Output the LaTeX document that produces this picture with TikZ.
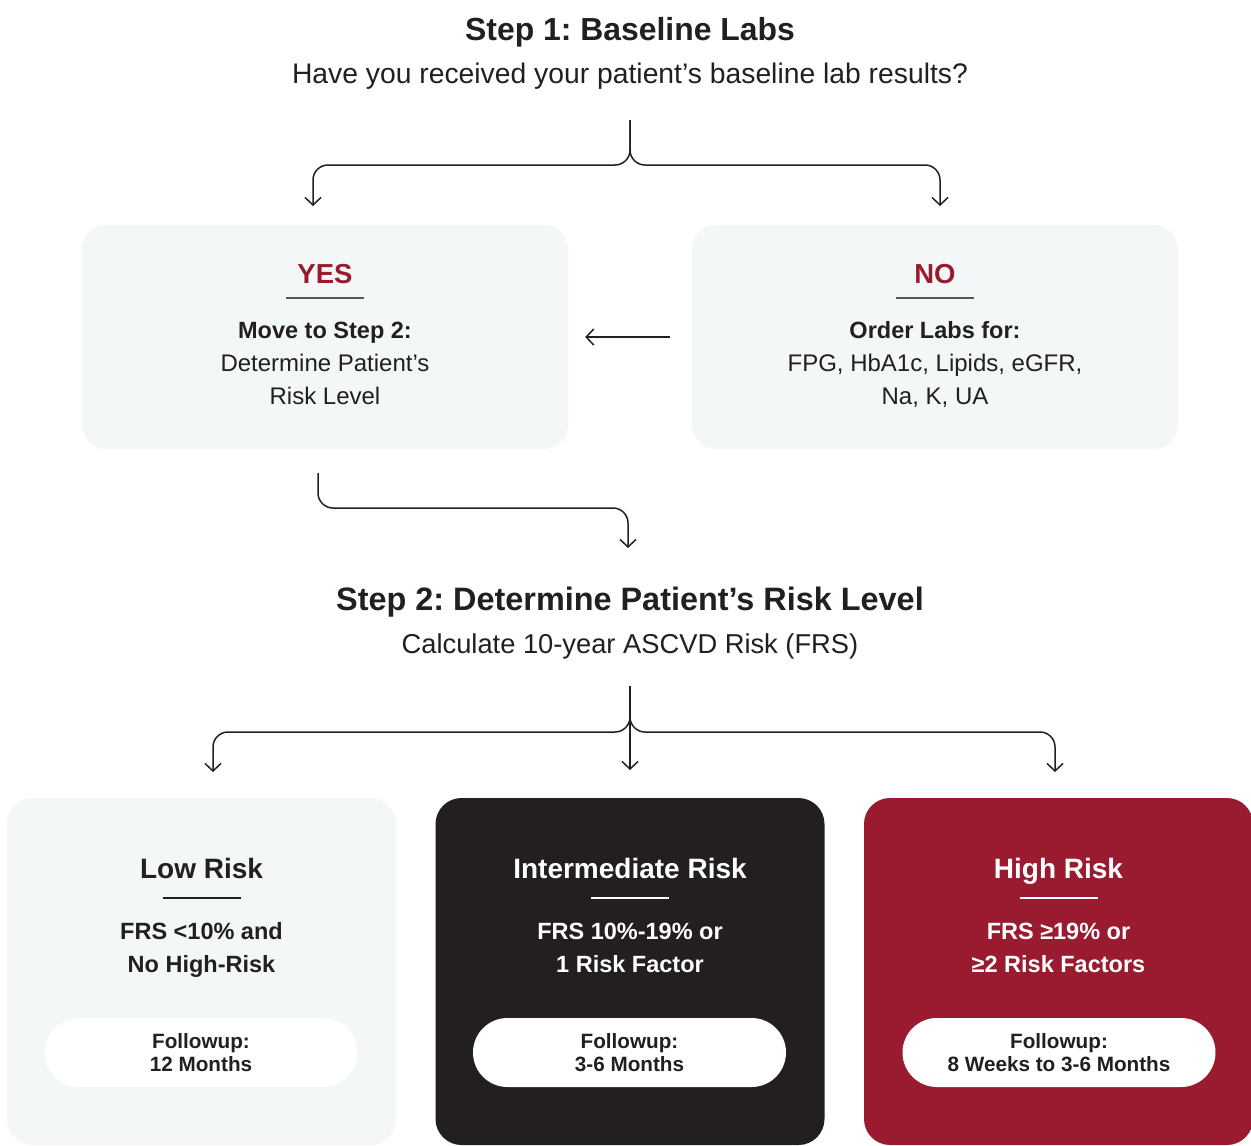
\documentclass[tikz,border=0pt]{standalone}
\usepackage{fontspec}
\setmainfont{Liberation Sans}
\usetikzlibrary{arrows.meta}
\frenchspacing
\definecolor{ink}{HTML}{231F20}
\definecolor{panel}{HTML}{F3F7F8}
\definecolor{crimson}{HTML}{9A1B30}
\definecolor{rulegray}{HTML}{58585A}
\newcommand{\fsTitle}{\fontsize{31.9}{36}\selectfont\bfseries}
\newcommand{\fsTitleB}{\fontsize{32.4}{36}\selectfont\bfseries}
\newcommand{\fsSub}{\fontsize{28.3}{32}\selectfont}
\newcommand{\fsSubB}{\fontsize{27.3}{32}\selectfont}
\newcommand{\fsHead}{\fontsize{27.5}{32}\selectfont\bfseries}
\newcommand{\fsBodyB}{\fontsize{23.5}{28}\selectfont\bfseries}
\newcommand{\fsBody}{\fontsize{24}{28}\selectfont}
\newcommand{\fsRisk}{\fontsize{28}{32}\selectfont\bfseries}
\newcommand{\fsCrit}{\fontsize{23.5}{28}\selectfont\bfseries}
\newcommand{\fsFollow}{\fontsize{20.7}{24}\selectfont\bfseries}
\tikzset{
  conn/.style={draw=ink, line width=1.5pt, rounded corners=15pt},
  arr/.style={conn, -{Straight Barb[length=7.5pt,width=16pt,line width=1.5pt]}},
  card/.style={rectangle, rounded corners=24pt, inner sep=0pt, minimum width=486pt, minimum height=224pt, fill=panel},
  riskcard/.style={rectangle, rounded corners=26pt, inner sep=0pt, minimum width=389pt, minimum height=347pt},
  pill/.style={rectangle, rounded corners=34.5pt, inner sep=0pt, minimum width=313pt, minimum height=69pt, fill=white},
  txt/.style={anchor=base, inner sep=0pt, text=ink},
  wtxt/.style={anchor=base, inner sep=0pt, text=white},
  thinrule/.style={draw=rulegray, line width=2pt},
  headrule/.style={line width=2.6pt}
}
\begin{document}
\begin{tikzpicture}[x=1pt,y=-1pt]
\fill[white] (0,0) rectangle (1251,1146);
\useasboundingbox (0,0) rectangle (1251,1146);

% Step 1 heading
\node[txt] (t1) at (630,40) {\fsTitle Step 1: Baseline Labs};
\node[txt] (s1) at (630,83) {\fsSub Have you received your patient’s baseline lab results?};

% Step 1 cards
\node[card] (yes) at (325,337) {};
\node[card] (no) at (935,337) {};

\node[txt, text=crimson] (yesh) at (325,283) {\fsHead YES};
\draw[thinrule] (286,298) -- (364,298);
\node[txt] (yes1) at (325,338) {\fsBodyB Move to Step 2:};
\node[txt] (yes2) at (325,371) {\fsBody Determine Patient’s};
\node[txt] (yes3) at (325,404) {\fsBody Risk Level};

\node[txt, text=crimson] (noh) at (935,283) {\fsHead NO};
\draw[thinrule] (896,298) -- (974,298);
\node[txt] (no1) at (935,338) {\fsBodyB Order Labs for:};
\node[txt] (no2) at (935,371) {\fsBody FPG, HbA1c, Lipids, eGFR,};
\node[txt] (no3) at (935,404) {\fsBody Na, K, UA};

% connectors step 1
\coordinate (c1top) at (630,120);
\coordinate (c1j) at (630,165);
\coordinate (c1l) at (313,206);
\coordinate (c1r) at (940,206);
\draw[arr] (c1top) -- (c1j) -| (c1l);
\draw[arr] (c1top) -- (c1j) -| (c1r);
\draw[arr] ([xshift=-22pt]no.west) -- ([xshift=17pt]yes.east);

% connector to step 2
\coordinate (c2top) at (318,473);
\coordinate (c2end) at (628,548);
\draw[arr] (c2top) -- (318,508) -| (c2end);

% Step 2 heading
\node[txt] (t2) at (630,610) {\fsTitleB Step 2: Determine Patient’s Risk Level};
\node[txt] (s2) at (630,653) {\fsSubB Calculate 10-year ASCVD Risk (FRS)};

% connectors step 2
\coordinate (c3top) at (630,686);
\coordinate (c3j) at (630,732);
\coordinate (c3l) at (213,772);
\coordinate (c3m) at (630,770);
\coordinate (c3r) at (1055,772);
\draw[arr] (c3top) -- (c3j) -| (c3l);
\draw[arr] (c3top) -- (c3j) -| (c3r);
\draw[arr] (c3top) -- (c3m);

% risk cards
\node[riskcard, fill=panel] (low) at (201.5,971.5) {};
\node[riskcard, fill=ink] (mid) at (630,971.5) {};
\node[riskcard, fill=crimson] (high) at (1058.5,971.5) {};

\node[txt] (lowh) at (201.5,878) {\fsRisk Low Risk};
\draw[headrule, draw=ink] (162.5,898) -- (240.5,898);
\node[txt] (low1) at (201.5,939) {\fsCrit FRS <10\% and};
\node[txt] (low2) at (201.5,972) {\fsCrit No High-Risk};
\node[pill] (lowp) at (201,1052.5) {};
\node[txt] (lowf1) at (201,1048) {\fsFollow Followup:};
\node[txt] (lowf2) at (201,1071) {\fsFollow 12 Months};

\node[wtxt] (midh) at (630,878) {\fsRisk Intermediate Risk};
\draw[headrule, draw=white] (591,898) -- (669,898);
\node[wtxt] (mid1) at (630,939) {\fsCrit FRS 10\%-19\% or};
\node[wtxt] (mid2) at (630,972) {\fsCrit 1 Risk Factor};
\node[pill] (midp) at (629.5,1052.5) {};
\node[txt] (midf1) at (629.5,1048) {\fsFollow Followup:};
\node[txt] (midf2) at (629.5,1071) {\fsFollow 3-6 Months};

\node[wtxt] (highh) at (1058.5,878) {\fsRisk High Risk};
\draw[headrule, draw=white] (1019.5,898) -- (1097.5,898);
\node[wtxt] (high1) at (1058.5,939) {\fsCrit FRS ≥19\% or};
\node[wtxt] (high2) at (1058.5,972) {\fsCrit ≥2 Risk Factors};
\node[pill] (highp) at (1059,1052.5) {};
\node[txt] (highf1) at (1059,1048) {\fsFollow Followup:};
\node[txt] (highf2) at (1059,1071) {\fsFollow 8 Weeks to 3-6 Months};
\end{tikzpicture}
\end{document}
